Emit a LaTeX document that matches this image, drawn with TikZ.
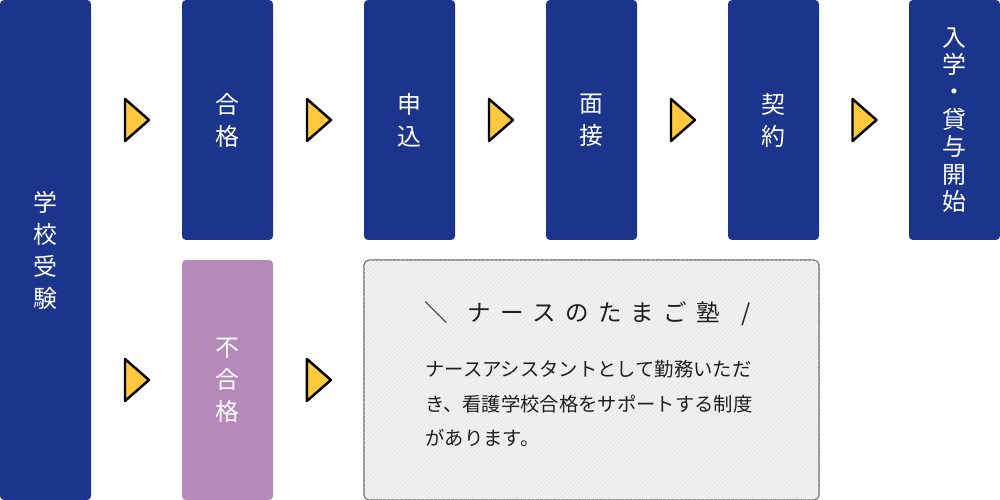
\documentclass[tikz,border=0pt]{standalone}
\usepackage{fontspec}
\setmainfont{Noto Sans CJK JP}
\newfontfamily\titlefont[LetterSpace=40]{Noto Sans CJK JP}
\usetikzlibrary{calc, patterns.meta}

\definecolor{navy}{HTML}{1B348C}
\definecolor{lilac}{HTML}{B689BB}
\definecolor{marker}{HTML}{FFC83D}
\definecolor{inkgray}{HTML}{1E1E1E}

\begin{document}
\begin{tikzpicture}[
    step box/.style={fill=navy, text=white, rounded corners=0.08cm,
        minimum width=1.82cm, minimum height=4.8cm, inner sep=0pt, align=center,
        font=\fontsize{13.6}{18.2}\selectfont},
    fail box/.style={step box, fill=lilac},
    pointer/.style={draw=black, fill=marker, line width=1.4pt, line join=round}
]

% Picture frame
\useasboundingbox (0,0) rectangle (20,-10);

% Rows
\def\topY{-2.4}
\def\lowY{-7.6}

% Steps
\node[step box, minimum height=10cm] (exam) at (0.91,-5) {学\\校\\受\\験};
\node[step box] (pass) at (4.55,\topY) {合\\格};
\node[step box] (apply) at (8.19,\topY) {申\\込};
\node[step box] (interview) at (11.83,\topY) {面\\接};
\node[step box] (contract) at (15.47,\topY) {契\\約};
\node[step box, font=\fontsize{13.6}{15.6}\selectfont] (enroll) at (19.09,\topY) {入\\学\\・\\貸\\与\\開\\始};

% Failed branch
\node[fail box] (fail) at (4.55,\lowY) {不\\合\\格};

% Support box with fine hatching
\node[draw=black!60, line width=0.6pt, rounded corners=0.1cm, fill=black!8,
      minimum width=9.1cm, minimum height=4.8cm] (juku) at (11.83,\lowY) {};
\fill[pattern={Lines[angle=45, distance=0.06cm, line width=0.25pt]}, pattern color=white!70!black!4,
      rounded corners=0.1cm] ([shift={(0.02,0.02)}]juku.south west) rectangle ([shift={(-0.02,-0.02)}]juku.north east);

\node[text=inkgray, font=\titlefont\fontsize{13.4}{16}\selectfont] (title) at (11.75,-6.28)
      {＼\hspace{11pt}ナースのたまご塾\hspace{12pt}/};
\node[text=inkgray, anchor=north west, align=left, inner sep=0pt,
      font=\fontsize{11}{19.6}\selectfont] (body) at (8.5,-7.2)
      {ナースアシスタントとして勤務いただ\\き、看護学校合格をサポートする制度\\があります。};

% Pointers between steps
\foreach \a/\b in {exam/pass, pass/apply, apply/interview, interview/contract, contract/enroll, exam/fail, fail/juku}
  \draw[pointer] ($(\a.east |- \b.west)!0.5!(\b.west)$) ++(-0.23,0.42) -- ++(0.48,-0.42) -- ++(-0.48,-0.42) -- cycle;

\end{tikzpicture}
\end{document}
